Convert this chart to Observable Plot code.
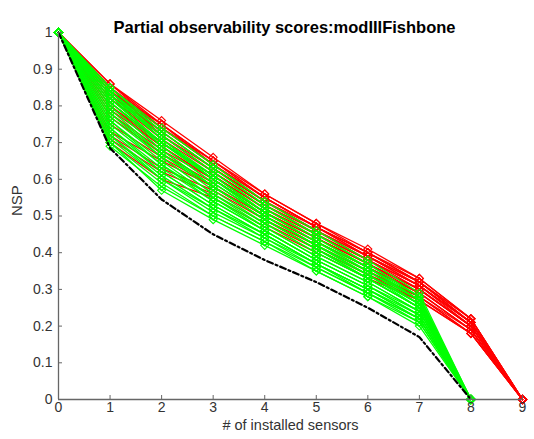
<!DOCTYPE html>
<html><head><meta charset="utf-8">
<script src="https://cdn.jsdelivr.net/npm/d3@7"></script>
<script src="https://cdn.jsdelivr.net/npm/@observablehq/plot@0.6"></script>
<style>body{margin:0;background:#fff}#chart svg{display:block}</style>
</head><body><div id="chart"></div>
<script>
const titleText = "Partial observability scores:modIIIFishbone";
const xLabel = "# of installed sensors";
const yLabel = "NSP";
const xTicks = [0,1,2,3,4,5,6,7,8,9];
const yTicks = [0,0.1,0.2,0.3,0.4,0.5,0.6,0.7,0.8,0.9,1];
const yTickLabels = ["0","0.1","0.2","0.3","0.4","0.5","0.6","0.7","0.8","0.9","1"];

// red series: NSP at 0..9 installed sensors
const redSeries = [
  [1,.86,.76,.66,.56,.48,.41,.33,.22,0],
  [1,.86,.75,.65,.56,.48,.40,.33,.22,0],
  [1,.85,.75,.65,.55,.47,.40,.32,.22,0],
  [1,.85,.74,.64,.55,.47,.40,.32,.21,0],
  [1,.84,.74,.64,.54,.47,.39,.32,.21,0],
  [1,.84,.73,.63,.54,.46,.39,.31,.21,0],
  [1,.83,.73,.63,.54,.46,.39,.31,.21,0],
  [1,.83,.72,.62,.53,.46,.38,.31,.20,0],
  [1,.82,.71,.62,.53,.45,.38,.30,.20,0],
  [1,.81,.70,.61,.52,.45,.37,.30,.20,0],
  [1,.80,.70,.61,.52,.44,.37,.30,.20,0],
  [1,.79,.69,.60,.51,.44,.37,.29,.19,0],
  [1,.78,.68,.60,.51,.43,.36,.29,.19,0],
  [1,.77,.67,.59,.50,.43,.36,.29,.19,0],
  [1,.75,.66,.58,.50,.42,.35,.28,.19,0],
  [1,.73,.65,.58,.49,.42,.35,.28,.18,0],
  [1,.72,.63,.57,.49,.41,.34,.28,.18,0],
  [1,.71,.62,.56,.48,.41,.34,.27,.18,0],
  [1,.70,.60,.55,.47,.40,.33,.27,.18,0],
  [1,.85,.72,.62,.53,.45,.38,.31,.21,0],
  [1,.80,.69,.60,.51,.44,.37,.30,.20,0],
  [1,.84,.75,.64,.55,.47,.40,.32,.22,0],
  [1,.82,.72,.63,.54,.46,.38,.31,.21,0],
  [1,.86,.74,.65,.55,.47,.39,.32,.21,0]
];
// green series: NSP at 0..8 installed sensors
const greenSeries = [
  [1,.85,.74,.64,.54,.46,.38,.29,0],
  [1,.85,.73,.63,.53,.45,.37,.28,0],
  [1,.84,.73,.63,.53,.45,.37,.28,0],
  [1,.84,.72,.62,.52,.44,.36,.28,0],
  [1,.83,.72,.62,.52,.44,.36,.27,0],
  [1,.83,.71,.61,.51,.43,.36,.27,0],
  [1,.82,.70,.60,.51,.43,.35,.27,0],
  [1,.82,.70,.60,.50,.42,.35,.26,0],
  [1,.81,.69,.59,.50,.42,.34,.26,0],
  [1,.80,.68,.58,.49,.41,.34,.26,0],
  [1,.80,.68,.58,.49,.41,.33,.25,0],
  [1,.79,.67,.57,.48,.40,.33,.25,0],
  [1,.78,.66,.56,.48,.40,.33,.25,0],
  [1,.77,.66,.56,.47,.39,.32,.24,0],
  [1,.76,.65,.55,.47,.39,.32,.24,0],
  [1,.75,.64,.55,.46,.38,.31,.24,0],
  [1,.74,.63,.54,.46,.38,.31,.23,0],
  [1,.73,.62,.53,.45,.37,.30,.23,0],
  [1,.72,.61,.52,.45,.37,.30,.22,0],
  [1,.71,.60,.51,.44,.36,.29,.22,0],
  [1,.70,.59,.50,.43,.36,.29,.21,0],
  [1,.69,.58,.50,.43,.35,.28,.21,0],
  [1,.70,.57,.49,.42,.35,.28,.20,0],
  [1,.72,.60,.52,.44,.37,.30,.22,0],
  [1,.84,.71,.60,.50,.42,.34,.26,0],
  [1,.78,.67,.58,.49,.41,.33,.25,0],
  [1,.81,.70,.61,.51,.43,.35,.27,0],
  [1,.76,.64,.54,.46,.38,.31,.23,0],
  [1,.74,.62,.53,.45,.37,.29,.22,0],
  [1,.83,.69,.59,.50,.42,.34,.25,0]
];
// black dash-dot bound
const bestSeries = [1,.685,.545,.45,.38,.32,.25,.17,0];

const toRows = (series) => series.flatMap((vals, id) => vals.map((v, i) => ({x: xTicks[i], y: v, id})));
const redRows = toRows(redSeries);
const greenRows = toRows(greenSeries);
const bestRows = bestSeries.map((v, i) => ({x: xTicks[i], y: v}));

const font = "Liberation Sans, Arial, Helvetica, sans-serif";
const axisColor = "#666";
const textColor = "#333";

const chart = Plot.plot({
  width: 534, height: 439,
  marginLeft: 58, marginRight: 12, marginTop: 32, marginBottom: 40,
  style: {fontFamily: font, fontSize: "14px", color: textColor, background: "#fff"},
  x: {domain: [0, 9]},
  y: {domain: [0, 1]},
  marks: [
    Plot.line(redRows, {x: "x", y: "y", z: "id", stroke: "#ff0000", strokeWidth: 1.3}),
    Plot.dot(redRows, {x: "x", y: "y", symbol: "diamond2", r: 3.6, stroke: "#ff0000", strokeWidth: 1.1, fill: "none"}),
    Plot.line(greenRows, {x: "x", y: "y", z: "id", stroke: "#00ff00", strokeWidth: 1.3}),
    Plot.dot(greenRows, {x: "x", y: "y", symbol: "diamond2", r: 3.6, stroke: "#00ff00", strokeWidth: 1.1, fill: "none"}),
    Plot.line(bestRows, {x: "x", y: "y", stroke: "#000", strokeWidth: 2.2, strokeDasharray: "6,3,2,3"}),
    Plot.ruleY([0], {stroke: axisColor, strokeWidth: 1.3}),
    Plot.ruleX([0], {stroke: axisColor, strokeWidth: 1.3}),
    Plot.axisX({ticks: xTicks, tickSize: -4, tickPadding: 7, stroke: axisColor, fill: textColor, label: null, fontSize: 14}),
    Plot.axisY({ticks: yTicks, tickFormat: (d) => yTickLabels[yTicks.indexOf(d)], tickSize: -4, tickPadding: 10, stroke: axisColor, fill: textColor, label: null, fontSize: 14}),
    Plot.text([xLabel], {frameAnchor: "bottom", dy: 30.5, fill: textColor, fontSize: 14.5}),
    Plot.text([yLabel], {frameAnchor: "left", dx: -41, rotate: -90, fill: textColor, fontSize: 15}),
    Plot.text([titleText], {frameAnchor: "top", dy: -11, dx: -6, fill: "#000", fontSize: 16.5, fontWeight: "bold"})
  ]
});
document.getElementById("chart").appendChild(chart);
</script>
</body></html>
